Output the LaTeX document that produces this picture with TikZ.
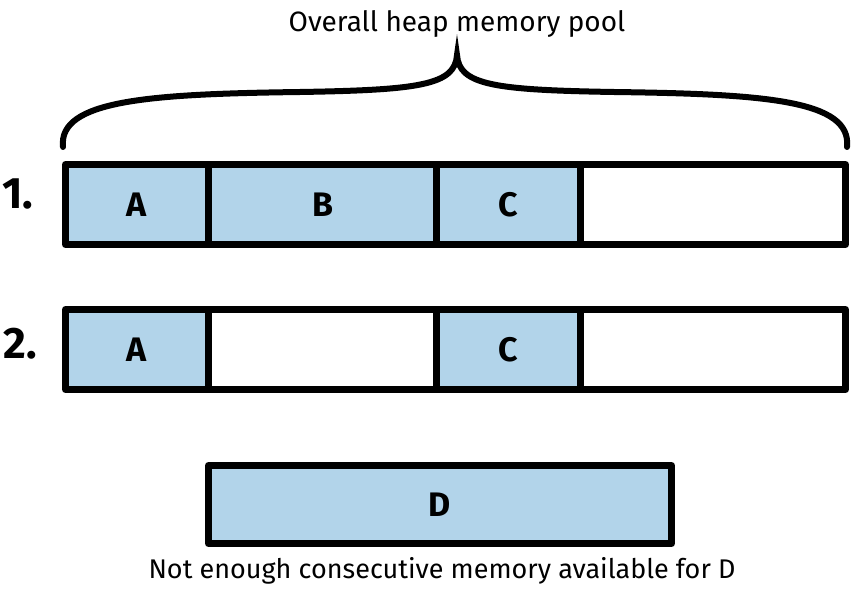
\documentclass[tikz,border=0pt]{standalone}
\usepackage{fontspec}
\setmainfont{Fira Sans}
\definecolor{memblue}{RGB}{178,212,234}
\begin{document}
\begin{tikzpicture}[x=1pt,y=-1pt,
  cell/.style={draw=black,line width=7pt,line join=round,minimum height=80pt,inner sep=0pt,anchor=north west,font=\fontsize{34}{38}\selectfont\bfseries},
  used/.style={cell,fill=memblue},
  free/.style={cell,fill=white},
  lbl/.style={font=\fontsize{44}{48}\selectfont\bfseries},
  txt/.style={font=\fontsize{28}{32}\selectfont}]
\useasboundingbox (0,0) rectangle (854,596);
% brace
\draw[line width=6pt,line cap=round] (63,147) .. controls (58,100) and (150,94) .. (300,92)
  .. controls (420,90) and (455,85) .. (457,55)
  .. controls (459,85) and (494,90) .. (614,92)
  .. controls (764,94) and (852,100) .. (847,147);
\node[txt] (title) at (457,24) {Overall heap memory pool};
% row 1
\node[lbl] (n1) at (18,194) {1.};
\node[used,minimum width=143pt] (a1) at (62,161) {A};
\node[used,minimum width=228pt] (b1) at (205,161) {B};
\node[used,minimum width=144pt] (c1) at (433,161) {C};
\node[free,minimum width=265pt] (e1) at (577,161) {};
% row 2
\node[lbl] (n2) at (20,344) {2.};
\node[used,minimum width=143pt] (a2) at (62,306) {A};
\node[free,minimum width=228pt] (f2) at (205,306) {};
\node[used,minimum width=144pt] (c2) at (433,306) {C};
\node[free,minimum width=265pt] (e2) at (577,306) {};
% D
\node[used,minimum width=463pt,minimum height=78pt] (d) at (205,462) {D};
\node[txt,font=\fontsize{27}{31}\selectfont] (note) at (442,571) {Not enough consecutive memory available for D};
\end{tikzpicture}
\end{document}
